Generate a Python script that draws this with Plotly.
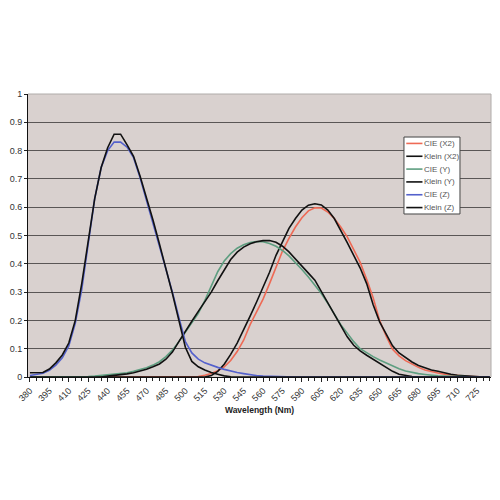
import plotly.graph_objects as go

### dados (comprimento de onda em nm, passo de 5)
wavelength = [380, 385, 390, 395, 400, 405, 410, 415, 420, 425, 430, 435,
              440, 445, 450, 455, 460, 465, 470, 475, 480, 485, 490, 495,
              500, 505, 510, 515, 520, 525, 530, 535, 540, 545, 550, 555,
              560, 565, 570, 575, 580, 585, 590, 595, 600, 605, 610, 615,
              620, 625, 630, 635, 640, 645, 650, 655, 660, 665, 670, 675,
              680, 685, 690, 695, 700, 705, 710, 715, 720, 725, 730, 735]

cie_x2 = [0] * 25 + [0, 0.002, 0.006, 0.012, 0.022, 0.036, 0.058, 0.09, 0.13, 0.185, 0.23, 0.275,
                     0.33, 0.39, 0.445, 0.49, 0.53, 0.563, 0.587, 0.598, 0.597, 0.583, 0.56, 0.53,
                     0.495, 0.45, 0.405, 0.345, 0.28, 0.2, 0.145, 0.098, 0.075, 0.058, 0.045, 0.034,
                     0.025, 0.019, 0.014, 0.01, 0.007, 0.004, 0.003, 0.002, 0.001, 0, 0]

klein_x2 = [0] * 27 + [0, 0.005, 0.02, 0.045, 0.08, 0.12, 0.165, 0.215, 0.265, 0.315, 0.37, 0.43,
                       0.48, 0.525, 0.56, 0.59, 0.607, 0.612, 0.608, 0.59, 0.56, 0.52, 0.475, 0.43,
                       0.385, 0.33, 0.255, 0.195, 0.15, 0.11, 0.085, 0.068, 0.053, 0.041, 0.032, 0.025,
                       0.02, 0.014, 0.01, 0.006, 0.004, 0.002, 0.001, 0, 0]

cie_y = [0] * 8 + [0.001, 0.002, 0.003, 0.005, 0.007, 0.009, 0.012, 0.015, 0.02, 0.026, 0.033, 0.042,
                   0.054, 0.072, 0.095, 0.125, 0.158, 0.19, 0.225, 0.27, 0.32, 0.372, 0.41, 0.436,
                   0.455, 0.467, 0.475, 0.479, 0.478, 0.472, 0.462, 0.447, 0.428, 0.405, 0.38, 0.353,
                   0.325, 0.295, 0.26, 0.222, 0.185, 0.155, 0.125, 0.1, 0.085, 0.072, 0.06, 0.049,
                   0.038, 0.029, 0.021, 0.016, 0.012, 0.009, 0.006, 0.004, 0.003, 0.002, 0.001, 0,
                   0, 0, 0, 0]

klein_y = [0] * 12 + [0.003, 0.005, 0.008, 0.011, 0.015, 0.02, 0.027, 0.036, 0.046, 0.063, 0.088, 0.125,
                      0.163, 0.197, 0.232, 0.265, 0.3, 0.34, 0.38, 0.415, 0.441, 0.459, 0.471, 0.478,
                      0.482, 0.482, 0.476, 0.462, 0.442, 0.418, 0.392, 0.367, 0.342, 0.302, 0.262, 0.218,
                      0.177, 0.142, 0.112, 0.092, 0.077, 0.063, 0.05, 0.035, 0.02, 0.01, 0.005, 0.002] + [0] * 12

cie_z = [0.005, 0.008, 0.013, 0.024, 0.042, 0.068, 0.11, 0.19, 0.31, 0.47, 0.63, 0.74,
         0.8, 0.83, 0.83, 0.812, 0.775, 0.705, 0.625, 0.545, 0.462, 0.38, 0.3, 0.21,
         0.125, 0.085, 0.063, 0.05, 0.041, 0.034, 0.027, 0.021, 0.016, 0.012, 0.008, 0.005,
         0.003, 0.002, 0.001] + [0] * 33

klein_z = [0.015, 0.015, 0.016, 0.028, 0.05, 0.078, 0.12, 0.2, 0.33, 0.48, 0.63, 0.74,
           0.81, 0.858, 0.858, 0.82, 0.78, 0.71, 0.635, 0.555, 0.47, 0.385, 0.295, 0.2,
           0.105, 0.055, 0.036, 0.025, 0.016, 0.01, 0.004, 0.001] + [0] * 40

series = [
    ('CIE (X2)', cie_x2, '#EE6A55'),
    ('Klein (X2)', klein_x2, '#111111'),
    ('CIE (Y)', cie_y, '#5E9E80'),
    ('Klein (Y)', klein_y, '#111111'),
    ('CIE (Z)', cie_z, '#5461CC'),
    ('Klein (Z)', klein_z, '#111111'),
]

for nome, vals, _ in series:
    assert len(vals) == len(wavelength), (nome, len(vals))

fig = go.Figure()

for nome, vals, cor in series:
    fig.add_trace(go.Scatter(x=wavelength, y=vals, mode='lines', name=nome,
                             line=dict(color=cor, width=1.6), showlegend=False))

# borda cinza clara no topo e na direita do plot area
fig.add_shape(type='line', xref='paper', yref='paper', x0=0, y0=1, x1=1, y1=1,
              line=dict(color='#B0ACAA', width=1), layer='above')
fig.add_shape(type='line', xref='paper', yref='paper', x0=1, y0=0, x1=1, y1=1,
              line=dict(color='#B0ACAA', width=1), layer='above')

# legenda desenhada a mao (a legenda do plotly fica muito espaçada)
leg_x0, leg_x1 = 0.812, 0.933
leg_top, leg_bot = 0.848, 0.576
fig.add_shape(type='rect', xref='paper', yref='paper', x0=leg_x0, x1=leg_x1, y0=leg_bot, y1=leg_top,
              line=dict(color='#444444', width=1), fillcolor='white', layer='above')
passo = (leg_top - leg_bot) / len(series)
for i, (nome, _, cor) in enumerate(series):
    yc = leg_top - passo * (i + 0.5)
    fig.add_shape(type='line', xref='paper', yref='paper', x0=0.817, x1=0.852, y0=yc, y1=yc,
                  line=dict(color=cor, width=1.6), layer='above')
    fig.add_annotation(xref='paper', yref='paper', x=0.852, y=yc, text=nome, showarrow=False,
                       xanchor='left', yanchor='middle', font=dict(size=8, color='#555555'))

# a pagina tem margem de 8px no body, compensada aqui
fig.update_layout(
    width=500, height=500,
    paper_bgcolor='white',
    plot_bgcolor='#D9D1CF',
    margin=dict(l=20, r=17, t=86, b=131),
    font=dict(family='Liberation Sans, Arial', size=9, color='#333333'),
    showlegend=False,
    xaxis=dict(
        range=[378.5, 736],
        tick0=380, dtick=15,
        tickangle=-45,
        ticks='outside', ticklen=4, tickcolor='#222222',
        minor=dict(dtick=5, ticks='outside', ticklen=3, tickcolor='#222222'),
        showgrid=False,
        showline=True, linecolor='#111111', linewidth=1,
        zeroline=False,
        automargin=False,
        title=dict(text='<b>Wavelength (Nm)</b>', font=dict(size=8.5, color='#222222'), standoff=4),
    ),
    yaxis=dict(
        range=[0, 1],
        dtick=0.1,
        ticks='outside', ticklen=3, tickcolor='#222222',
        showgrid=True, gridcolor='#5A5656', gridwidth=1,
        showline=True, linecolor='#111111', linewidth=1,
        zeroline=False,
        automargin=False,
    ),
)

fig.write_html("out.html")
